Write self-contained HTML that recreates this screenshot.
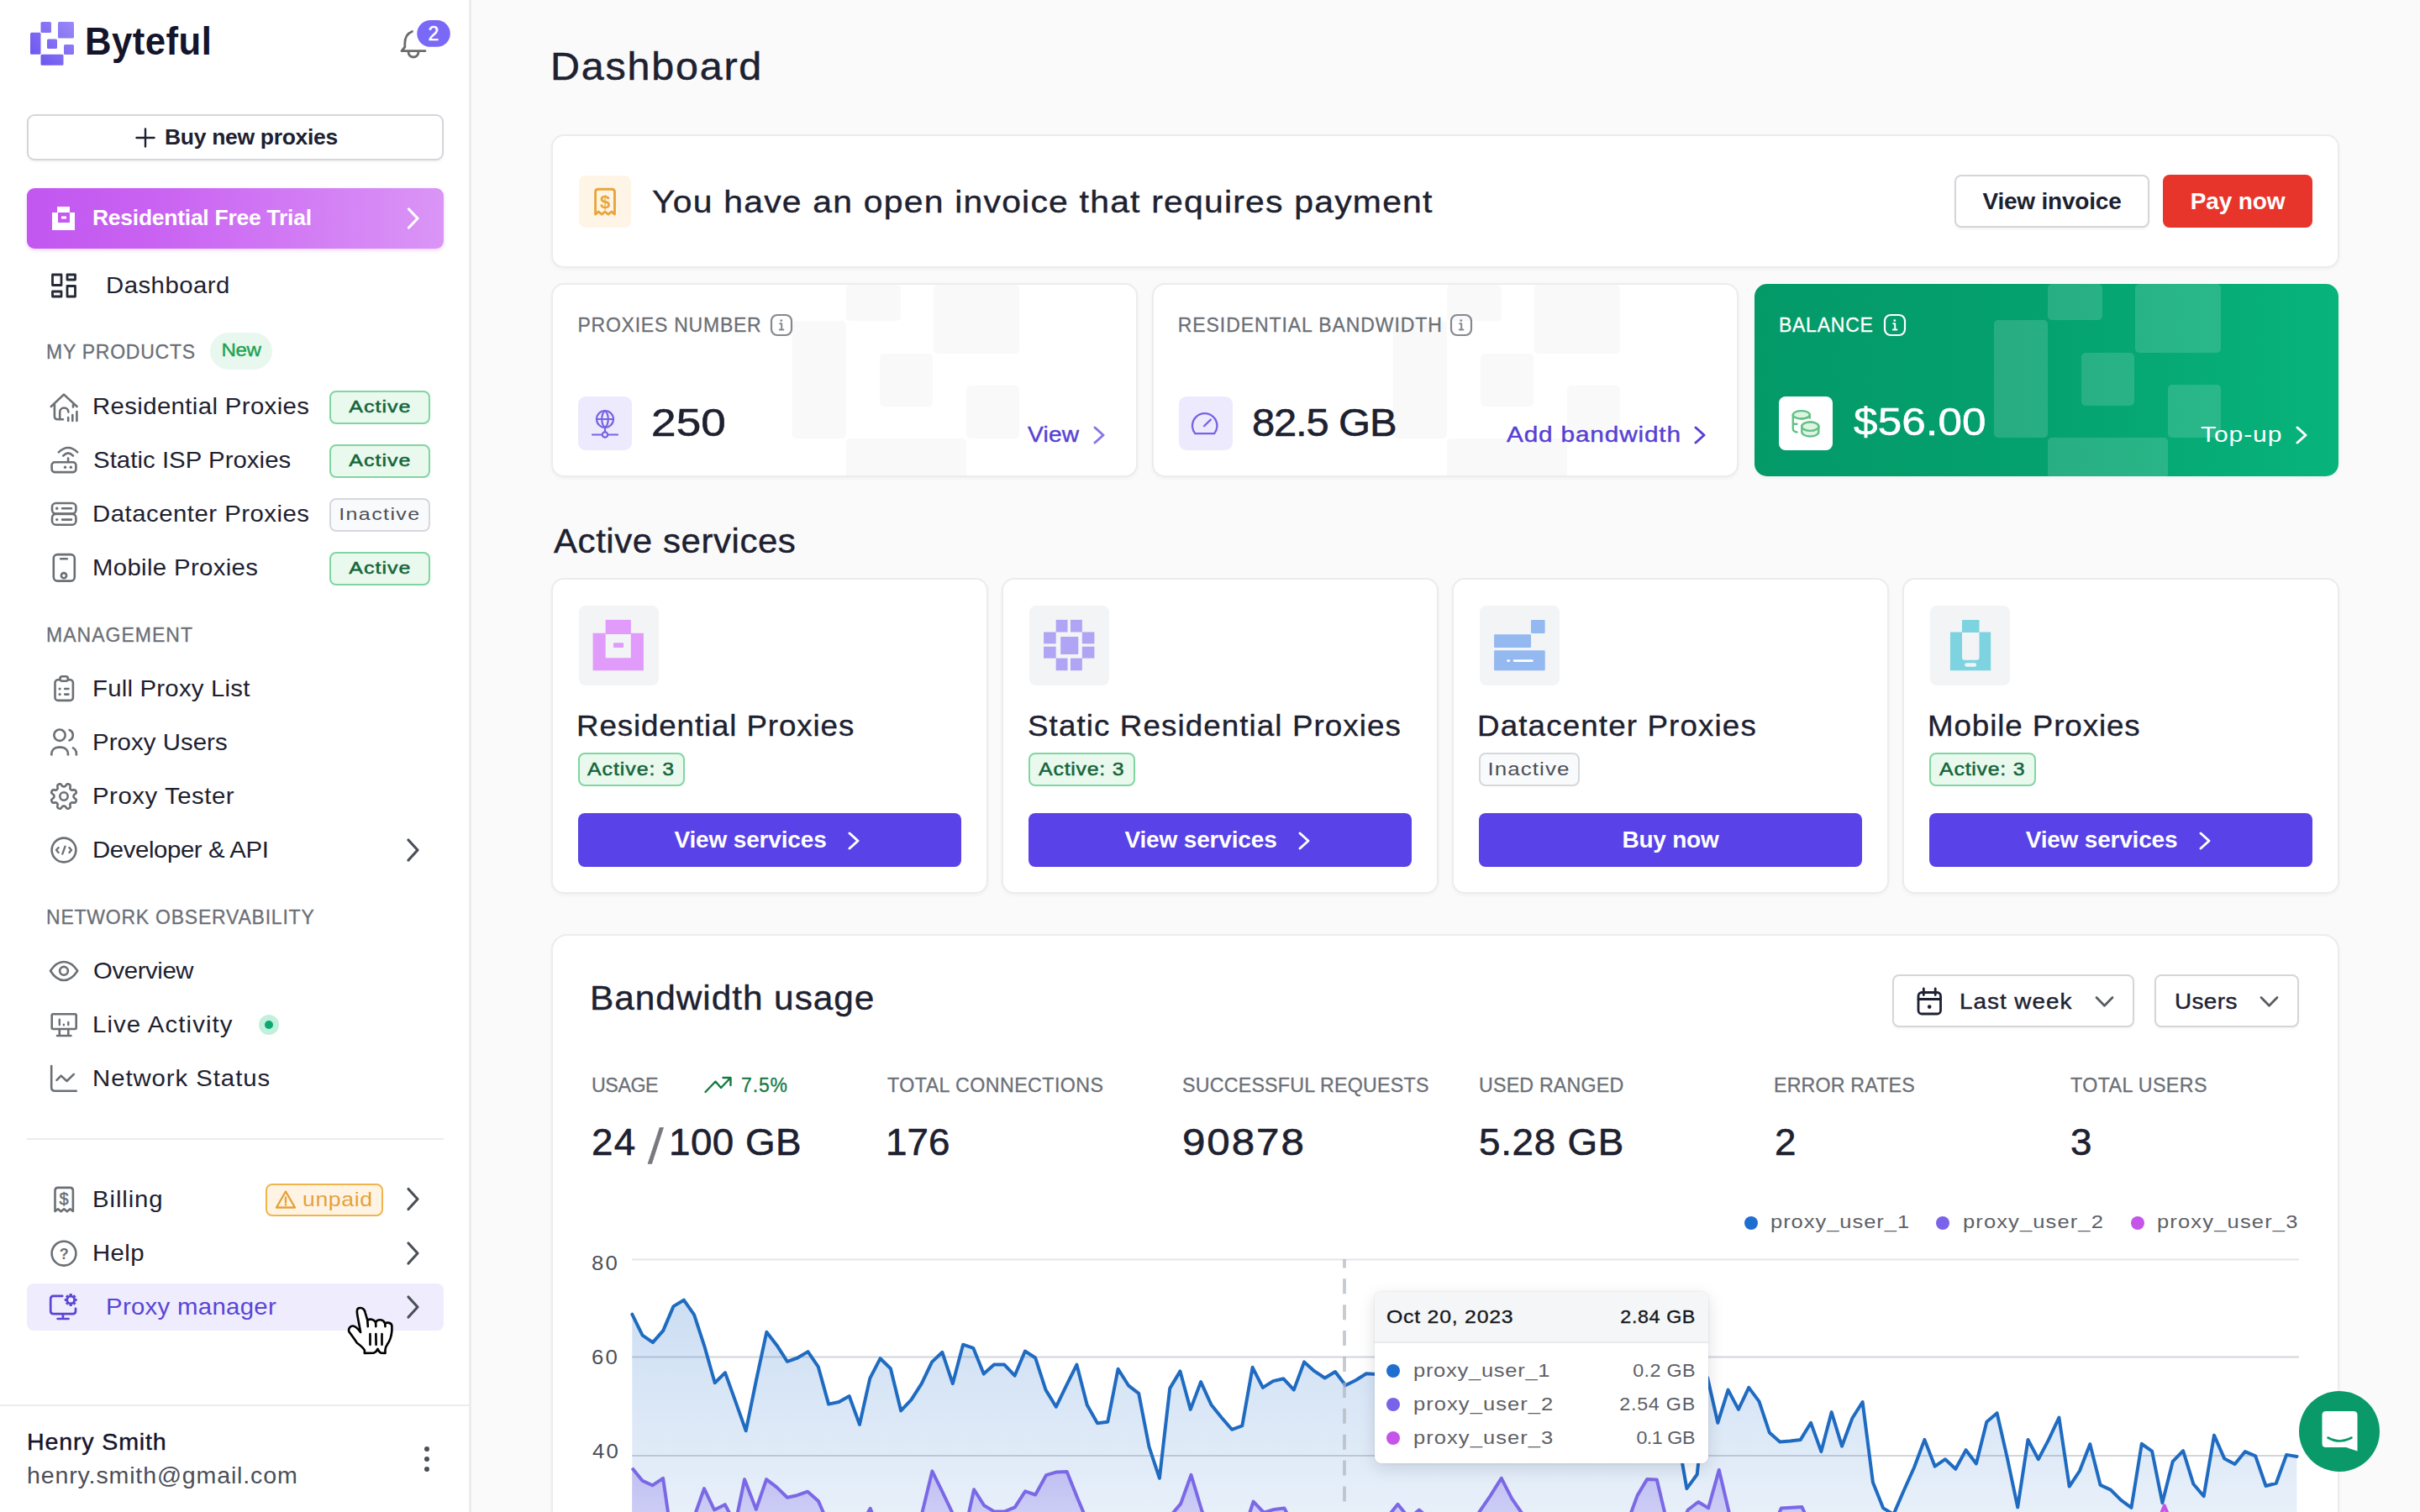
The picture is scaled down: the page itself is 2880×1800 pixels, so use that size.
<!DOCTYPE html>
<html lang="en">
<head>
<meta charset="utf-8">
<title>Byteful Dashboard</title>
<style>
*{box-sizing:border-box;margin:0;padding:0}
html,body{width:2880px;height:1800px;overflow:hidden}
body{position:relative;background:#fafafa;font-family:"Liberation Sans",sans-serif;color:#1d2130;-webkit-font-smoothing:antialiased}
.abs{position:absolute}
.t{position:absolute;white-space:nowrap;line-height:1}
svg{position:absolute;overflow:visible}
/* sidebar */
#sb{position:absolute;left:0;top:0;width:561px;height:1800px;background:#fff;border-right:3px solid #ededee}
.nav{position:absolute;left:112px;font-size:27.2px;transform:scaleX(1.08);transform-origin:0 50%;letter-spacing:.85px;color:#1d2130;white-space:nowrap;line-height:40px;height:40px}
.sec{position:absolute;left:57px;font-size:23px;letter-spacing:.85px;color:#6b6f76;-webkit-text-stroke:.3px #6b6f76;white-space:nowrap;line-height:30px;height:30px}
.ico{stroke:#6b7075;stroke-width:2.6;fill:none;stroke-linecap:round;stroke-linejoin:round}
.badge{position:absolute;left:392px;width:120px;height:40px;border-radius:8px;font-size:20.5px;letter-spacing:1.2px;text-align:center;line-height:34.5px}
.b-act{background:#e9f9ee;border:2px solid #7fd6a0;color:#14653a;font-weight:400;-webkit-text-stroke:.5px #14653a}
.b-in{background:#f9fafb;border:2px solid #d6d8dc;color:#4b4f58}
.chev{stroke:#4b4f58;stroke-width:3.2;fill:none;stroke-linecap:round;stroke-linejoin:round}
/* main */
.card{position:absolute;background:#fff;border:2px solid #ececec;border-radius:15px;box-shadow:0 2px 4px rgba(16,24,40,.04)}
.lbl{position:absolute;font-size:23px;letter-spacing:.85px;color:#6b6f76;-webkit-text-stroke:.3px #6b6f76;white-space:nowrap;line-height:30px}
.big{position:absolute;font-size:47px;transform:scaleX(1.04);transform-origin:0 50%;color:#1d2130;white-space:nowrap;line-height:60px;-webkit-text-stroke:.6px #1d2130}
.btn{position:absolute;height:64px;border-radius:8px;background:#5842e8;color:#fff;font-weight:700;font-size:28px;letter-spacing:.8px;text-align:center;line-height:64px;white-space:nowrap}
</style>
</head>
<body>

<!-- ================= SIDEBAR ================= -->
<div id="sb">
  <!-- logo -->
  <svg style="left:36px;top:26px" width="52" height="52" viewBox="36 26 52 52">
    <defs><linearGradient id="lg" gradientUnits="userSpaceOnUse" x1="38" y1="76" x2="88" y2="28"><stop offset="0" stop-color="#6852ee"/><stop offset="1" stop-color="#9a89f7"/></linearGradient></defs>
    <g fill="url(#lg)">
      <rect x="48.5" y="26" width="12.5" height="13" rx="1.5"/>
      <rect x="69" y="26" width="19" height="19.5" rx="1.5"/>
      <rect x="36" y="38.8" width="12.5" height="26" rx="1.5"/>
      <rect x="56" y="46.5" width="12" height="11.5" rx="1.5"/>
      <rect x="76" y="53" width="12" height="12" rx="1.5"/>
      <rect x="48.5" y="64.8" width="27" height="13" rx="1.5"/>
    </g>
  </svg>
  <div class="t" style="left:100.7px;top:24px;font-size:45.5px;font-weight:700;color:#14142b;letter-spacing:0.49px;line-height:52px;transform:scaleX(.96);transform-origin:0 50%">Byteful</div>

  <!-- bell -->
  <svg style="left:0;top:0" width="560" height="110" viewBox="0 0 560 110">
    <path d="M490.5 37.5 C484 40 481.8 46 481.8 52 L481.8 56 L478 60.6 L506 60.6" fill="none" stroke="#6b6b6e" stroke-width="2.8" stroke-linecap="round" stroke-linejoin="round"/>
    <path d="M486 62 A6 6 0 0 0 498 62" fill="none" stroke="#6b6b6e" stroke-width="2.8" stroke-linecap="round"/>
    <rect x="494.5" y="22.2" width="43" height="35.4" rx="17.7" fill="#fff"/>
    <rect x="496.3" y="24" width="39.5" height="31.8" rx="15.9" fill="#7a68f6"/>
  </svg>
  <div class="t" style="left:496px;top:24px;width:40px;height:32px;line-height:32px;text-align:center;font-size:23px;color:#fff;font-weight:400;-webkit-text-stroke:.5px #fff">2</div>

  <!-- buy new proxies -->
  <div class="abs" style="left:32px;top:136px;width:496px;height:55px;border:2px solid #d4d6da;border-radius:9px;background:#fff;box-shadow:0 2px 3px rgba(16,24,40,.05)"></div>
  <svg style="left:160px;top:150px" width="28" height="28" viewBox="0 0 28 28"><path d="M13 3.5V24.5M2.5 14H23.5" stroke="#1d2130" stroke-width="2.4" stroke-linecap="round" fill="none"/></svg>
  <div class="t" style="left:196px;top:145px;font-size:25px;font-weight:700;letter-spacing:-0.3px;color:#1d2130;line-height:36px;transform:scaleX(1.06);transform-origin:0 50%">Buy new proxies</div>

  <!-- free trial -->
  <div class="abs" style="left:32px;top:224px;width:496px;height:72px;border-radius:9px;background:linear-gradient(90deg,#c257f0 0%,#c962f2 30%,#d27bf4 65%,#da95f6 100%);box-shadow:0 2px 4px rgba(194,87,240,.25)"></div>
  <svg style="left:60px;top:244px" width="32" height="32" viewBox="0 0 32 32"><path fill="#fff" d="M8 2h15v7h6v21H2V9h6z M9 9v12h14V9z M13 13.5h6v3h-6z" fill-rule="evenodd"/></svg>
  <div class="t" style="left:110.0px;top:241px;font-size:25px;font-weight:700;letter-spacing:-0.25px;color:#fff;line-height:36px;transform:scaleX(1.06);transform-origin:0 50%">Residential Free Trial</div>
  <svg style="left:484px;top:246px" width="16" height="28" viewBox="0 0 16 28"><path d="M2.5 3L13 14L2.5 25" stroke="#fff" stroke-width="3.2" fill="none" stroke-linecap="round" stroke-linejoin="round"/></svg>

  <!-- dashboard -->
  <svg style="left:0;top:300px" width="120" height="80" viewBox="0 300 120 80"><g fill="none" stroke="#262a36" stroke-width="2.8" stroke-linejoin="round">
    <rect x="62.5" y="327" width="10.5" height="12.5"/><rect x="80" y="327" width="9.5" height="6"/><rect x="62.5" y="347" width="10.5" height="6"/><rect x="80" y="340.5" width="9.5" height="12.5"/></g></svg>
  <div class="nav" style="left:126.4px;top:320px;letter-spacing:0.43px">Dashboard</div>

  <!-- my products -->
  <div class="sec" style="left:55.0px;top:404px;letter-spacing:0.75px">MY PRODUCTS</div>
  <div class="abs" style="left:250px;top:396px;width:74px;height:44px;border-radius:22px;background:#e8f8ee"></div>
  <div class="t" style="left:250px;top:396px;width:74px;height:44px;line-height:42px;text-align:center;font-size:21.5px;letter-spacing:-0.4px;color:#22a352;-webkit-text-stroke:.4px #22a352;transform:scaleX(1.12);transform-origin:50% 50%">New</div>

  <div class="nav" style="left:110.0px;top:464px;letter-spacing:0.34px">Residential Proxies</div>
  <div class="badge b-act" style="top:465px"><span style="display:inline-block;transform:scaleX(1.22);transform-origin:50% 50%;letter-spacing:0.8px">Active</span></div>
  <div class="nav" style="left:111.0px;top:528px;letter-spacing:0.04px">Static ISP Proxies</div>
  <div class="badge b-act" style="top:529px"><span style="display:inline-block;transform:scaleX(1.22);transform-origin:50% 50%;letter-spacing:0.8px">Active</span></div>
  <div class="nav" style="left:110.0px;top:592px;letter-spacing:0.45px">Datacenter Proxies</div>
  <div class="badge b-in" style="top:593px"><span style="display:inline-block;transform:scaleX(1.22);transform-origin:50% 50%;letter-spacing:1.14px">Inactive</span></div>
  <div class="nav" style="left:110.0px;top:656px;letter-spacing:0.31px">Mobile Proxies</div>
  <div class="badge b-act" style="top:657px"><span style="display:inline-block;transform:scaleX(1.22);transform-origin:50% 50%;letter-spacing:0.8px">Active</span></div>

  <div class="sec" style="left:55.0px;top:741px;letter-spacing:1.01px">MANAGEMENT</div>
  <div class="nav" style="left:110.0px;top:800px;letter-spacing:0.2px">Full Proxy List</div>
  <div class="nav" style="left:110.0px;top:864px;letter-spacing:0.07px">Proxy Users</div>
  <div class="nav" style="left:110.0px;top:928px;letter-spacing:0.5px">Proxy Tester</div>
  <div class="nav" style="left:110.0px;top:992px;letter-spacing:-0.37px">Developer &amp; API</div>

  <div class="sec" style="left:55.0px;top:1077px;letter-spacing:0.77px">NETWORK OBSERVABILITY</div>
  <div class="nav" style="left:111.0px;top:1136px;letter-spacing:-0.37px">Overview</div>
  <div class="nav" style="left:110.0px;top:1200px;letter-spacing:1.01px">Live Activity</div>
  <div class="abs" style="left:308px;top:1208px;width:24px;height:24px;border-radius:12px;background:#c3f0dd"></div>
  <div class="abs" style="left:315px;top:1215px;width:10px;height:10px;border-radius:5px;background:#0aa872"></div>
  <div class="nav" style="left:110.0px;top:1264px;letter-spacing:0.86px">Network Status</div>

  <div class="abs" style="left:32px;top:1355px;width:496px;height:2px;background:#ececee"></div>

  <div class="nav" style="left:110.0px;top:1408px;letter-spacing:0.82px">Billing</div>
  <div class="abs" style="left:316px;top:1409px;width:140px;height:39px;border-radius:8px;background:#fff4e3;border:2px solid #efb54c"></div>
  <svg style="left:327px;top:1416px" width="26" height="24" viewBox="0 0 26 24"><path d="M13 2.5L24 21.5H2Z" fill="none" stroke="#e5a13a" stroke-width="2.4" stroke-linejoin="round"/><path d="M13 9.5v6" stroke="#e5a13a" stroke-width="2.4" stroke-linecap="round"/><circle cx="13" cy="18.3" r="1.3" fill="#e5a13a"/></svg>
  <div class="t" style="left:360px;top:1409px;line-height:37px;font-size:24px;letter-spacing:0.56px;color:#e5a13a;transform:scaleX(1.11);transform-origin:0 50%">unpaid</div>
  <div class="nav" style="left:110.0px;top:1472px;letter-spacing:0.36px">Help</div>

  <div class="abs" style="left:32px;top:1528px;width:496px;height:56px;border-radius:8px;background:#efedfd"></div>
  <div class="nav" style="left:126.4px;top:1536px;color:#5a45d8;letter-spacing:0.28px;font-size:27.2px">Proxy manager</div>

  <!-- bottom user -->
  <div class="abs" style="left:0;top:1672px;width:558px;height:2px;background:#ececee"></div>
  <div class="t" style="left:32px;top:1698px;font-size:27px;letter-spacing:0.78px;color:#14142b;line-height:38px;-webkit-text-stroke:.4px #14142b;transform:scaleX(1.06);transform-origin:0 50%">Henry Smith</div>
  <div class="t" style="left:32px;top:1738px;font-size:27px;letter-spacing:0.78px;color:#4b4f58;line-height:38px;transform:scaleX(1.06);transform-origin:0 50%">henry.smith@gmail.com</div>
  <div class="abs" style="left:505px;top:1722px;width:6px;height:6px;border-radius:3px;background:#4b4f58"></div>
  <div class="abs" style="left:505px;top:1734px;width:6px;height:6px;border-radius:3px;background:#4b4f58"></div>
  <div class="abs" style="left:505px;top:1746px;width:6px;height:6px;border-radius:3px;background:#4b4f58"></div>

  <!-- chevrons -->
  <svg style="left:0;top:0" width="560" height="1800" viewBox="0 0 560 1800">
    <g class="chev">
      <path d="M486 1000L497 1012L486 1024"/>
      <path d="M486 1415.5L497 1427.5L486 1439.5"/>
      <path d="M486 1480L497 1492L486 1504"/>
    </g>
    <path d="M486 1544L497 1556L486 1568" fill="none" stroke="#4b4f58" stroke-width="3.2" stroke-linecap="round" stroke-linejoin="round"/>
    
    <g class="ico">
      <!-- house -->
      <path d="M60.8 484L76 469.6L91.6 484"/>
      <path d="M64.9 482V495.5Q64.9 499.3 68.7 499.3H75"/>
      <path d="M71.2 498.5V490.6A5.1 5.1 0 0 1 81.4 490.6"/>
      <path d="M87 482.4V484.6"/>
      <path d="M81.2 497V501M86.3 494V501M91.4 490V501"/>
      <!-- router -->
      <rect x="61.6" y="550.3" width="28.8" height="11.8" rx="3.5"/>
      <path d="M81.1 545.6V550"/>
      <path d="M75.2 542.6Q81.1 536.2 87 542.6"/>
      <path d="M69.8 538.4Q81.1 527.6 92.2 538.4"/>
      <!-- datacenter -->
      <rect x="62" y="599" width="28.4" height="12.6" rx="4.5"/>
      <rect x="62" y="611.9" width="28.4" height="12.8" rx="4.5"/>
      <path d="M74 605.3H85M74 618.6H85"/>
      <!-- mobile -->
      <rect x="63.8" y="660.1" width="25" height="31.5" rx="4.5"/>
      <path d="M72.2 665.3H79.8"/>
      <circle cx="76" cy="685.2" r="3.1"/>
      <!-- clipboard -->
      <rect x="65.5" y="809.3" width="21.4" height="24.6" rx="3.5"/>
      <rect x="71.4" y="805.2" width="9.6" height="5.6" rx="2.8" fill="#fff"/>
      <path d="M77.2 820H81.5M77.2 826.6H81.5"/>
      <!-- users -->
      <circle cx="71" cy="875.2" r="6.7"/>
      <path d="M61.3 899.6V897.6A8 8 0 0 1 69.3 889.6H73A8 8 0 0 1 81 897.6V899.6" stroke-linecap="butt"/>
      <path d="M82.6 869A6.7 6.7 0 0 1 82.6 881.4"/>
      <path d="M86 889.9A8 8 0 0 1 90.9 897.4V899.6" stroke-linecap="butt"/>
      <!-- gear -->
      <path d="M90.4 954.0 L90.0 954.9 L89.2 955.6 L87.3 955.6 L85.5 955.3 L84.7 955.6 L84.2 956.2 L83.6 956.7 L83.3 957.5 L83.6 959.3 L83.6 961.2 L82.9 962.0 L82.0 962.4 L81.0 962.8 L79.9 962.7 L78.7 961.3 L77.6 959.9 L76.8 959.6 L76.0 959.6 L75.2 959.6 L74.4 959.9 L73.3 961.3 L72.1 962.7 L71.0 962.8 L70.0 962.4 L69.1 962.0 L68.4 961.2 L68.4 959.3 L68.7 957.5 L68.4 956.7 L67.8 956.2 L67.3 955.6 L66.5 955.3 L64.7 955.6 L62.8 955.6 L62.0 954.9 L61.6 954.0 L61.2 953.0 L61.3 951.9 L62.7 950.7 L64.1 949.6 L64.4 948.8 L64.4 948.0 L64.4 947.2 L64.1 946.4 L62.7 945.3 L61.3 944.1 L61.2 943.0 L61.6 942.0 L62.0 941.1 L62.8 940.4 L64.7 940.4 L66.5 940.7 L67.3 940.4 L67.8 939.8 L68.4 939.3 L68.7 938.5 L68.4 936.7 L68.4 934.8 L69.1 934.0 L70.0 933.6 L71.0 933.2 L72.1 933.3 L73.3 934.7 L74.4 936.1 L75.2 936.4 L76.0 936.4 L76.8 936.4 L77.6 936.1 L78.7 934.7 L79.9 933.3 L81.0 933.2 L82.0 933.6 L82.9 934.0 L83.6 934.8 L83.6 936.7 L83.3 938.5 L83.6 939.3 L84.2 939.8 L84.7 940.4 L85.5 940.7 L87.3 940.4 L89.2 940.4 L90.0 941.1 L90.4 942.0 L90.8 943.0 L90.7 944.1 L89.3 945.3 L87.9 946.4 L87.6 947.2 L87.6 948.0 L87.6 948.8 L87.9 949.6 L89.3 950.7 L90.7 951.9 L90.8 953.0Z"/>
      <circle cx="76" cy="948" r="4.7"/>
      <!-- code -->
      <circle cx="76" cy="1012" r="14.4"/>
      <path d="M69.6 1009L67 1012L69.6 1015M82.4 1009L85 1012L82.4 1015M77.5 1007.6L74.3 1016.6" stroke-width="2.3"/>
      <!-- eye -->
      <path d="M60 1155.8Q67 1145 76 1145Q85 1145 92.3 1155.8Q85 1167 76 1167Q67 1167 60 1155.8Z"/>
      <circle cx="76" cy="1155.8" r="4.9"/>
      <!-- monitor -->
      <rect x="61.7" y="1207.2" width="29" height="17.8" rx="1.5"/>
      <path d="M70.8 1213.8V1220M81.3 1217V1220M75.9 1219.6V1220.2" stroke-width="2.4"/>
      <path d="M70.8 1226V1232.5M81.3 1226V1232.5M68 1233H84.4"/>
      <!-- network status -->
      <path d="M61.2 1269V1294.5Q61.2 1298.8 65.5 1298.8H90.8"/>
      <path d="M67.5 1285.8L72.7 1280.6L79.5 1287L87.8 1278.8"/>
      <!-- receipt -->
      <path d="M65.5 1442V1417.5Q65.5 1413.9 69 1413.9H83.4Q86.9 1413.9 86.9 1417.5V1442L83.4 1439.3L79.8 1442.3L76.2 1439.3L72.6 1442.3L69 1439.3Z"/>
      <!-- help -->
      <circle cx="76" cy="1492.2" r="14.4"/>
    </g>
    <g fill="#6b7075">
      <circle cx="77.5" cy="556.2" r="1.7"/><circle cx="84.3" cy="556.2" r="1.7"/>
      <circle cx="67.7" cy="605.3" r="1.7"/><circle cx="67.7" cy="618.6" r="1.7"/>
      <circle cx="71.1" cy="820" r="1.6"/><circle cx="71.1" cy="826.6" r="1.6"/>
      <text x="76" y="1433.8" font-family="Liberation Sans" font-weight="400" font-size="20" text-anchor="middle" stroke="#6b7075" stroke-width=".5">$</text>
      <text x="76.2" y="1498.8" font-family="Liberation Sans" font-weight="700" font-size="18" text-anchor="middle">?</text>
    </g>
    <!-- proxy manager icon -->
    <g fill="none" stroke="#5a45d8" stroke-width="2.7" stroke-linecap="round" stroke-linejoin="round">
      <path d="M74.2 1542.9H63.6Q60.2 1542.9 60.2 1546.3V1560.8Q60.2 1564.2 63.6 1564.2H86.6Q90 1564.2 90 1560.8V1557.8"/>
      <path d="M74.9 1564.4V1569.8M68.6 1570H81.6"/>
      <circle cx="84.2" cy="1547.5" r="4.4" stroke-width="2.8"/>
      <path d="M89.4 1547.5L91.6 1547.5M87.9 1551.2L89.4 1552.7M84.2 1552.7L84.2 1554.9M80.5 1551.2L79.0 1552.7M79.0 1547.5L76.8 1547.5M80.5 1543.8L79.0 1542.3M84.2 1542.3L84.2 1540.1M87.9 1543.8L89.4 1542.3" stroke-width="3.2" stroke-linecap="butt"/>
    </g>

  </svg>
</div>

<!-- ================= MAIN ================= -->
<div class="t" style="left:654.6px;top:49px;font-size:46.6px;line-height:60px;letter-spacing:1.71px;color:#1d2130;-webkit-text-stroke:.5px #1d2130;transform:scaleX(1.04);transform-origin:0 50%">Dashboard</div>

<!-- invoice banner -->
<div class="card" style="left:656px;top:160px;width:2128px;height:159px"></div>
<div class="abs" style="left:689px;top:209px;width:62px;height:62px;border-radius:8px;background:#fff5e6"></div>
<svg style="left:689px;top:209px" width="62" height="62" viewBox="0 0 62 62"><path d="M19.600 46V19.500Q19.600 16.200 22.900 16.200H39.200Q42.500 16.200 42.500 19.500V46L38.700 43L34.900 46.200L31 43L27.200 46.200L23.400 43Z" fill="none" stroke="#eaa53c" stroke-width="2.900" stroke-linejoin="round"/><text x="31" y="38.600" font-family="Liberation Sans" font-size="22" font-weight="700" fill="#eaa53c" text-anchor="middle">$</text></svg>
<div class="t" style="left:775.8px;top:211.3px;font-size:36.5px;line-height:60px;letter-spacing:1.09px;color:#1d2130;-webkit-text-stroke:.4px #1d2130;transform:scaleX(1.12);transform-origin:0 50%">You have an open invoice that requires payment</div>
<div class="abs" style="left:2326px;top:208px;width:232px;height:63px;border:2px solid #d4d6da;border-radius:8px;background:#fff;box-shadow:0 2px 3px rgba(16,24,40,.05)"></div>
<div class="t" style="left:2326px;top:208px;width:232px;height:63px;line-height:63px;text-align:center;font-size:28px;font-weight:700;letter-spacing:-0.2px;color:#1d2130">View invoice</div>
<div class="abs" style="left:2574px;top:208px;width:178px;height:63px;border-radius:8px;background:#e8352b"></div>
<div class="t" style="left:2574px;top:208px;width:178px;height:63px;line-height:63px;text-align:center;font-size:28px;font-weight:700;letter-spacing:-0.14px;color:#fff">Pay now</div>

<!-- stat cards -->
<div class="card" style="left:656px;top:337px;width:698px;height:231px;overflow:hidden"><svg style="left:0;top:0" width="695" height="229" viewBox="0 0 695 229"><rect x="349" y="0" width="65" height="43" rx="5" fill="#f9f9f9"/><rect x="453" y="0" width="102" height="82" rx="5" fill="#f9f9f9"/><rect x="285" y="43" width="64" height="140" rx="5" fill="#f9f9f9"/><rect x="389" y="82" width="63" height="63" rx="5" fill="#f9f9f9"/><rect x="492" y="120" width="63" height="63" rx="5" fill="#f9f9f9"/><rect x="349" y="183" width="143" height="48" rx="5" fill="#f9f9f9"/></svg></div>
<div class="card" style="left:1371px;top:337px;width:698px;height:231px;overflow:hidden"><svg style="left:0;top:0" width="695" height="229" viewBox="0 0 695 229"><rect x="349" y="0" width="65" height="43" rx="5" fill="#f9f9f9"/><rect x="453" y="0" width="102" height="82" rx="5" fill="#f9f9f9"/><rect x="285" y="43" width="64" height="140" rx="5" fill="#f9f9f9"/><rect x="389" y="82" width="63" height="63" rx="5" fill="#f9f9f9"/><rect x="492" y="120" width="63" height="63" rx="5" fill="#f9f9f9"/><rect x="349" y="183" width="143" height="48" rx="5" fill="#f9f9f9"/></svg></div>
<div class="card" style="left:2088px;top:338px;width:695px;height:229px;overflow:hidden;border:none;background:linear-gradient(90deg,#039a68 0%,#04a06d 45%,#08b47c 100%)"><svg style="left:0;top:0" width="695" height="229" viewBox="0 0 695 229"><rect x="349" y="0" width="65" height="43" rx="5" fill="rgba(255,255,255,.14)"/><rect x="453" y="0" width="102" height="82" rx="5" fill="rgba(255,255,255,.14)"/><rect x="285" y="43" width="64" height="140" rx="5" fill="rgba(255,255,255,.14)"/><rect x="389" y="82" width="63" height="63" rx="5" fill="rgba(255,255,255,.14)"/><rect x="492" y="120" width="63" height="63" rx="5" fill="rgba(255,255,255,.14)"/><rect x="349" y="183" width="143" height="48" rx="5" fill="rgba(255,255,255,.14)"/></svg></div>

<div class="lbl" style="left:687.4px;top:372px;letter-spacing:0.77px">PROXIES NUMBER</div>
<svg style="left:916px;top:373px" width="28" height="28" viewBox="0 0 28 28"><rect x="2" y="2" width="24" height="24" rx="7" fill="none" stroke="#85888e" stroke-width="2.2"/><path d="M12.2 12.3H14.2V19.5M11.8 19.6H16.4" fill="none" stroke="#85888e" stroke-width="2" stroke-linecap="round" stroke-linejoin="round"/><circle cx="13.8" cy="8.6" r="1.4" fill="#85888e"/></svg>
<div class="abs" style="left:688px;top:472px;width:64px;height:64px;border-radius:9px;background:#edeafd"></div>
<svg style="left:688px;top:472px" width="64" height="64" viewBox="0 0 64 64"><g fill="none" stroke="#7663e4" stroke-width="2.2" stroke-linecap="round"><circle cx="32" cy="27" r="10"/><path d="M22 27H42M32 17C27 21 27 33 32 37M32 17C37 21 37 33 32 37M32 37V42M17 45.500H28.500M35.500 45.500H47"/><circle cx="32" cy="45.500" r="3.200"/></g></svg>
<div class="big" style="left:774.8px;top:472.5px;letter-spacing:0.1px;transform:scaleX(1.13);transform-origin:0 50%">250</div>
<div class="t" style="left:1223.0px;top:499px;line-height:36px;font-size:26.6px;letter-spacing:0.16px;color:#5641d4;-webkit-text-stroke:.4px #5641d4;transform:scaleX(1.06);transform-origin:0 50%">View</div>
<svg style="left:1301px;top:507px" width="14" height="22" viewBox="-2 -2 14 22"><path d="M0 0L10 9.0L0 18" fill="none" stroke="#8676e6" stroke-width="3" stroke-linecap="round" stroke-linejoin="round"/></svg>

<div class="lbl" style="left:1401.8px;top:372px;letter-spacing:0.92px">RESIDENTIAL BANDWIDTH</div>
<svg style="left:1725px;top:373px" width="28" height="28" viewBox="0 0 28 28"><rect x="2" y="2" width="24" height="24" rx="7" fill="none" stroke="#85888e" stroke-width="2.2"/><path d="M12.2 12.3H14.2V19.5M11.8 19.6H16.4" fill="none" stroke="#85888e" stroke-width="2" stroke-linecap="round" stroke-linejoin="round"/><circle cx="13.8" cy="8.6" r="1.4" fill="#85888e"/></svg>
<div class="abs" style="left:1403px;top:472px;width:64px;height:64px;border-radius:9px;background:#edeafd"></div>
<svg style="left:1403px;top:472px" width="64" height="64" viewBox="0 0 64 64"><g fill="none" stroke="#7663e4" stroke-width="2.3" stroke-linecap="round" stroke-linejoin="round"><path d="M19.400 44.200A14.700 14.700 0 1 1 42 44.200Z"/><path d="M30 35.300L37.800 27.600"/></g></svg>
<div class="big" style="left:1490.0px;top:472.5px;letter-spacing:-1.08px">82.5 GB</div>
<div class="t" style="left:1793px;top:499px;line-height:36px;font-size:26.6px;letter-spacing:0.74px;color:#5641d4;-webkit-text-stroke:.4px #5641d4;transform:scaleX(1.12);transform-origin:0 50%">Add bandwidth</div>
<svg style="left:2016px;top:507px" width="14" height="22" viewBox="-2 -2 14 22"><path d="M0 0L10 9.0L0 18" fill="none" stroke="#5641d4" stroke-width="3" stroke-linecap="round" stroke-linejoin="round"/></svg>

<div class="lbl" style="left:2116.9px;top:372px;color:#fff;-webkit-text-stroke:.3px #fff;letter-spacing:0.77px">BALANCE</div>
<svg style="left:2241px;top:373px" width="28" height="28" viewBox="0 0 28 28"><rect x="2" y="2" width="24" height="24" rx="7" fill="none" stroke="#fff" stroke-width="2.2"/><path d="M12.2 12.3H14.2V19.5M11.8 19.6H16.4" fill="none" stroke="#fff" stroke-width="2" stroke-linecap="round" stroke-linejoin="round"/><circle cx="13.8" cy="8.6" r="1.4" fill="#fff"/></svg>
<div class="abs" style="left:2117px;top:472px;width:64px;height:64px;border-radius:8px;background:#fff"></div>
<svg style="left:2117px;top:472px" width="64" height="64" viewBox="0 0 64 64"><g fill="none" stroke="#63c185" stroke-width="2.4" stroke-linecap="round"><ellipse cx="26.800" cy="21.800" rx="10" ry="4.700" fill="#dcf5e3"/><path d="M16.800 21.800V38.500C16.800 40.500 18.500 42 21.500 42.500M16.800 32.700H21.500"/><path d="M26.800 26.500C32.300 26.500 36.800 24.400 36.800 21.800V25.500" fill="none"/><ellipse cx="37.300" cy="35.700" rx="10" ry="5.200" fill="#dcf5e3"/><path d="M27.300 35.700V42.300C27.300 45.200 31.800 47.500 37.300 47.500S47.300 45.200 47.300 42.300V35.700" fill="#dcf5e3"/><ellipse cx="37.300" cy="35.700" rx="10" ry="5.200" fill="#dcf5e3"/></g></svg>
<div class="big" style="left:2206.4px;top:472px;color:#fff;-webkit-text-stroke:.6px #fff;letter-spacing:0.16px;transform:scaleX(1.09);transform-origin:0 50%">$56.00</div>
<div class="t" style="left:2618.8px;top:499px;line-height:36px;font-size:26.6px;letter-spacing:0.8px;color:#fff;transform:scaleX(1.13);transform-origin:0 50%">Top-up</div>
<svg style="left:2732px;top:507px" width="14" height="22" viewBox="-2 -2 14 22"><path d="M0 0L10 9.0L0 18" fill="none" stroke="#fff" stroke-width="3" stroke-linecap="round" stroke-linejoin="round"/></svg>

<!-- active services -->
<div class="t" style="left:658.6px;top:614px;font-size:40px;line-height:60px;letter-spacing:0.53px;color:#1d2130;-webkit-text-stroke:.4px #1d2130;transform:scaleX(1.05);transform-origin:0 50%">Active services</div>
<div class="card" style="left:656px;top:688px;width:520px;height:375.500px"></div>
<div class="abs" style="left:689px;top:721px;width:94.500px;height:94.500px;border-radius:8px;background:#f3f4f6"></div><svg style="left:689px;top:721px" width="94.500" height="94.500" viewBox="0 0 94 94"><g fill="#e09bfb"><rect x="31.5" y="16.8" width="30" height="17"/><path d="M16.500 32.700H76.500V76.800H16.500Z M31.500 32.700V61.800H61.500V32.700Z" fill-rule="evenodd"/><rect x="40.800" y="44" width="12" height="5.800" rx="1"/></g></svg>
<div class="t" style="left:686.0px;top:833.6px;font-size:35px;line-height:60px;transform:scaleX(1.05);transform-origin:0 50%;letter-spacing:0.83px;color:#1d2130;-webkit-text-stroke:.35px #1d2130">Residential Proxies</div>
<div class="abs b-act" style="left:688px;top:896px;width:127px;height:40px;border-radius:8px;font-size:22px;text-align:center;line-height:36px"><span style="display:inline-block;transform:scaleX(1.13);transform-origin:50% 50%;letter-spacing:0.85px">Active: 3</span></div>
<div class="btn" style="left:688px;top:968px;width:456px;padding-right:46px;letter-spacing:-0.16px">View services</div>
<svg style="left:1009px;top:990px" width="14" height="22" viewBox="-2 -2 14 22"><path d="M0 0L10 9.0L0 18" fill="none" stroke="#fff" stroke-width="3" stroke-linecap="round" stroke-linejoin="round"/></svg>
<div class="card" style="left:1192px;top:688px;width:520px;height:375.500px"></div>
<div class="abs" style="left:1225px;top:721px;width:94.500px;height:94.500px;border-radius:8px;background:#f3f4f6"></div><svg style="left:1225px;top:721px" width="94.500" height="94.500" viewBox="0 0 94 94"><g fill="#b0a4f4" transform="translate(17,16.800)"><rect x="20" y="20" width="21" height="21" rx="1"/><rect x="14.500" y="0" width="13.800" height="14.500"/><rect x="31.700" y="0" width="13.800" height="14.500"/><rect x="14.500" y="45.500" width="13.800" height="14.500"/><rect x="31.700" y="45.500" width="13.800" height="14.500"/><rect x="0" y="14.500" width="14.500" height="13.800"/><rect x="0" y="31.700" width="14.500" height="13.800"/><rect x="45.500" y="14.500" width="14.500" height="13.800"/><rect x="45.500" y="31.700" width="14.500" height="13.800"/></g></svg>
<div class="t" style="left:1223px;top:833.6px;font-size:35px;line-height:60px;transform:scaleX(1.05);transform-origin:0 50%;letter-spacing:1.04px;color:#1d2130;-webkit-text-stroke:.35px #1d2130">Static Residential Proxies</div>
<div class="abs b-act" style="left:1224px;top:896px;width:127px;height:40px;border-radius:8px;font-size:22px;text-align:center;line-height:36px"><span style="display:inline-block;transform:scaleX(1.13);transform-origin:50% 50%;letter-spacing:0.67px">Active: 3</span></div>
<div class="btn" style="left:1224px;top:968px;width:456px;padding-right:46px;letter-spacing:-0.16px">View services</div>
<svg style="left:1545px;top:990px" width="14" height="22" viewBox="-2 -2 14 22"><path d="M0 0L10 9.0L0 18" fill="none" stroke="#fff" stroke-width="3" stroke-linecap="round" stroke-linejoin="round"/></svg>
<div class="card" style="left:1728px;top:688px;width:520px;height:375.500px"></div>
<div class="abs" style="left:1761px;top:721px;width:94.500px;height:94.500px;border-radius:8px;background:#f3f4f6"></div><svg style="left:1761px;top:721px" width="94.500" height="94.500" viewBox="0 0 94 94"><g transform="translate(17,16.800)"><g fill="#94b8f0"><rect x="43.700" y="0" width="16.500" height="16" rx="1"/><rect x="0" y="17.200" width="43.700" height="15.800" rx="1"/><rect x="0" y="36.200" width="60.300" height="23.800" rx="1"/></g><rect x="15" y="47" width="4" height="2.800" rx="1.400" fill="#fff"/><rect x="22.500" y="47" width="24" height="2.800" rx="1.400" fill="#fff"/></g></svg>
<div class="t" style="left:1758.3px;top:833.6px;font-size:35px;line-height:60px;transform:scaleX(1.05);transform-origin:0 50%;letter-spacing:1.08px;color:#1d2130;-webkit-text-stroke:.35px #1d2130">Datacenter Proxies</div>
<div class="abs b-in" style="left:1760px;top:896px;width:120px;height:40px;border-radius:8px;font-size:22px;text-align:center;line-height:36px"><span style="display:inline-block;transform:scaleX(1.18);transform-origin:50% 50%;letter-spacing:0.9px">Inactive</span></div>
<div class="btn" style="left:1760px;top:968px;width:456px;letter-spacing:-0.24px">Buy now</div>
<div class="card" style="left:2264px;top:688px;width:520px;height:375.500px"></div>
<div class="abs" style="left:2297px;top:721px;width:94.500px;height:94.500px;border-radius:8px;background:#f3f4f6"></div><svg style="left:2297px;top:721px" width="94.500" height="94.500" viewBox="0 0 94 94"><g transform="translate(23.800,16.800)"><rect x="14" y="0" width="20.400" height="15" rx="1" fill="#7dd3e0"/><path d="M0 14.500H48V60H0Z M14 14.500V44.600Q14 47.600 17 47.600H31.400Q34.400 47.600 34.400 44.600V14.500Z" fill="#7dd3e0" fill-rule="evenodd"/><rect x="17.200" y="51" width="13.800" height="4.500" rx="2.200" fill="#eef5f8"/></g></svg>
<div class="t" style="left:2294.2px;top:833.6px;font-size:35px;line-height:60px;transform:scaleX(1.05);transform-origin:0 50%;letter-spacing:0.86px;color:#1d2130;-webkit-text-stroke:.35px #1d2130">Mobile Proxies</div>
<div class="abs b-act" style="left:2296px;top:896px;width:127px;height:40px;border-radius:8px;font-size:22px;text-align:center;line-height:36px"><span style="display:inline-block;transform:scaleX(1.13);transform-origin:50% 50%;letter-spacing:0.67px">Active: 3</span></div>
<div class="btn" style="left:2296px;top:968px;width:456px;padding-right:46px;letter-spacing:-0.2px">View services</div>
<svg style="left:2617px;top:990px" width="14" height="22" viewBox="-2 -2 14 22"><path d="M0 0L10 9.0L0 18" fill="none" stroke="#fff" stroke-width="3" stroke-linecap="round" stroke-linejoin="round"/></svg>

<!-- bandwidth card -->
<div class="card" style="left:656px;top:1112px;width:2128px;height:720px;border-radius:19px"></div>
<div class="t" style="left:701.8px;top:1158px;font-size:40px;line-height:60px;letter-spacing:0.88px;color:#1d2130;-webkit-text-stroke:.4px #1d2130;transform:scaleX(1.06);transform-origin:0 50%">Bandwidth usage</div>
<div class="abs" style="left:2252px;top:1160px;width:288px;height:63px;border:2px solid #d4d6da;border-radius:8px;background:#fff;box-shadow:0 2px 3px rgba(16,24,40,.04)"></div>
<svg style="left:2278px;top:1172px" width="36" height="40" viewBox="2278 1172 36 40"><g fill="none" stroke="#1d2130" stroke-width="2.8" stroke-linecap="round" stroke-linejoin="round"><rect x="2283" y="1181.500" width="26.500" height="25.500" rx="4"/><path d="M2283 1189.500H2309.500M2289.300 1177V1184.500M2303.200 1177V1184.500"/></g><circle cx="2296.200" cy="1198.600" r="2.300" fill="#1d2130"/></svg>
<div class="t" style="left:2332px;top:1174px;font-size:26.3px;line-height:36px;letter-spacing:0.93px;color:#1d2130;-webkit-text-stroke:.4px #1d2130;transform:scaleX(1.06);transform-origin:0 50%">Last week</div>
<svg style="left:2492px;top:1185px" width="26" height="16" viewBox="-2 -2 26 16"><path d="M1 .5L10.5 10.2L20 .5" fill="none" stroke="#5a5d63" stroke-width="2.8" stroke-linecap="round" stroke-linejoin="round"/></svg>
<div class="abs" style="left:2564px;top:1160px;width:172px;height:63px;border:2px solid #d4d6da;border-radius:8px;background:#fff;box-shadow:0 2px 3px rgba(16,24,40,.04)"></div>
<div class="t" style="left:2588px;top:1174px;font-size:26.3px;line-height:36px;letter-spacing:0.38px;color:#1d2130;-webkit-text-stroke:.4px #1d2130;transform:scaleX(1.06);transform-origin:0 50%">Users</div>
<svg style="left:2688px;top:1185px" width="26" height="16" viewBox="-2 -2 26 16"><path d="M1 .5L10.5 10.2L20 .5" fill="none" stroke="#5a5d63" stroke-width="2.8" stroke-linecap="round" stroke-linejoin="round"/></svg>
<div class="lbl" style="left:704.0px;top:1277px;font-size:23px;transform:scaleX(1.01);transform-origin:0 50%;letter-spacing:-0.43px">USAGE</div>
<div class="big" style="left:704px;top:1330px;font-size:44px;letter-spacing:1.2px">24</div><div class="big" style="left:772px;top:1335px;font-size:59px;color:#77797f;-webkit-text-stroke:.5px #77797f;transform:skewX(-3deg)">/</div><div class="big" style="left:796px;top:1330px;font-size:44px;letter-spacing:0.44px">100 GB</div>
<div class="lbl" style="left:1056.2px;top:1277px;font-size:23px;transform:scaleX(1.01);transform-origin:0 50%;letter-spacing:0.44px">TOTAL CONNECTIONS</div>
<div class="big" style="left:1054.4px;top:1330px;font-size:44px;letter-spacing:0.0px">176</div>
<div class="lbl" style="left:1407.4px;top:1277px;font-size:23px;transform:scaleX(1.01);transform-origin:0 50%;letter-spacing:0.21px">SUCCESSFUL REQUESTS</div>
<div class="big" style="left:1407.4px;top:1330px;font-size:44px;letter-spacing:1.75px;transform:scaleX(1.12);transform-origin:0 50%">90878</div>
<div class="lbl" style="left:1759.7px;top:1277px;font-size:23px;transform:scaleX(1.01);transform-origin:0 50%;letter-spacing:0.18px">USED RANGED</div>
<div class="big" style="left:1759.7px;top:1330px;font-size:44px;letter-spacing:0.7px">5.28 GB</div>
<div class="lbl" style="left:2111.1px;top:1277px;font-size:23px;transform:scaleX(1.01);transform-origin:0 50%;letter-spacing:0.16px">ERROR RATES</div>
<div class="big" style="left:2112px;top:1330px;font-size:44px;letter-spacing:.6px">2</div>
<div class="lbl" style="left:2464.0px;top:1277px;font-size:23px;transform:scaleX(1.01);transform-origin:0 50%;letter-spacing:0.4px">TOTAL USERS</div>
<div class="big" style="left:2464px;top:1330px;font-size:44px;letter-spacing:.6px">3</div>
<svg style="left:836px;top:1278px" width="38" height="28" viewBox="836 1278 38 28"><path d="M839.500 1300L851.500 1287.500L858 1295L869 1283.500M860.500 1283H869.500V1292" fill="none" stroke="#157a43" stroke-width="2.400" stroke-linecap="round" stroke-linejoin="round"/></svg>
<div class="t" style="left:882.0px;top:1277px;font-size:23px;line-height:30px;letter-spacing:0.86px;color:#157a43;-webkit-text-stroke:.3px #157a43">7.5%</div>
<div class="abs" style="left:2075.9px;top:1448px;width:16px;height:16px;border-radius:8px;background:#1f6fd0"></div><div class="t" style="left:2107.3px;top:1440px;font-size:22.6px;line-height:30px;letter-spacing:0.84px;color:#5d6066;transform:scaleX(1.13);transform-origin:0 50%">proxy_user_1</div>
<div class="abs" style="left:2304px;top:1448px;width:16px;height:16px;border-radius:8px;background:#7a63e8"></div><div class="t" style="left:2336.0px;top:1440px;font-size:22.6px;line-height:30px;letter-spacing:0.98px;color:#5d6066;transform:scaleX(1.13);transform-origin:0 50%">proxy_user_2</div>
<div class="abs" style="left:2535.6px;top:1448px;width:16px;height:16px;border-radius:8px;background:#c455e8"></div><div class="t" style="left:2567.0px;top:1440px;font-size:22.6px;line-height:30px;letter-spacing:1.02px;color:#5d6066;transform:scaleX(1.13);transform-origin:0 50%">proxy_user_3</div>
<div class="t" style="left:704.0px;top:1489px;font-size:23px;line-height:30px;letter-spacing:2.0px;transform:scaleX(1.12);transform-origin:0 50%;color:#4b4f58">80</div>
<div class="t" style="left:704px;top:1601px;font-size:23px;line-height:30px;letter-spacing:2.0px;transform:scaleX(1.12);transform-origin:0 50%;color:#4b4f58">60</div>
<div class="t" style="left:705.0px;top:1713px;font-size:23px;line-height:30px;letter-spacing:2.0px;transform:scaleX(1.12);transform-origin:0 50%;color:#4b4f58">40</div>
<svg style="left:0;top:1480px" width="2880" height="320" viewBox="0 1480 2880 320">
<defs>
<linearGradient id="gb" gradientUnits="userSpaceOnUse" x1="0" y1="1540" x2="0" y2="1860"><stop offset="0" stop-color="#2a74cc" stop-opacity=".24"/><stop offset="1" stop-color="#2a74cc" stop-opacity=".08"/></linearGradient>
<linearGradient id="gp" gradientUnits="userSpaceOnUse" x1="0" y1="1740" x2="0" y2="1900"><stop offset="0" stop-color="#7a63e8" stop-opacity=".34"/><stop offset="1" stop-color="#7a63e8" stop-opacity=".1"/></linearGradient>
</defs>
<g stroke="#e4e6e9" stroke-width="2"><path d="M752 1499.500H2736M752 1615.500H2736M752 1733H2736"/></g>
<path d="M752.3 1564.7L764.6 1589.7L776.9 1598.1L789.2 1584.1L801.5 1555.1L813.8 1547.7L826.1 1565.1L838.4 1602.8L850.7 1646.2L863.0 1634.1L875.3 1668.4L887.7 1703.3L900.0 1643.0L912.3 1585.8L924.6 1601.7L936.9 1620.8L949.2 1616.5L961.5 1609.1L973.8 1627.1L986.1 1671.6L998.4 1669.0L1010.7 1662.0L1023.0 1695.9L1035.3 1640.9L1047.6 1617.2L1059.9 1629.2L1072.2 1679.4L1084.5 1666.3L1096.8 1647.2L1109.1 1621.4L1121.4 1609.8L1133.8 1647.2L1146.1 1600.7L1158.4 1604.9L1170.7 1635.6L1183.0 1624.6L1195.3 1624.6L1207.6 1637.7L1219.9 1608.5L1232.2 1616.5L1244.5 1654.6L1256.8 1674.8L1269.1 1649.3L1281.4 1624.6L1293.7 1672.6L1306.0 1694.2L1318.3 1692.7L1330.6 1629.7L1342.9 1649.3L1355.2 1658.9L1367.5 1722.4L1379.9 1759.8L1392.2 1652.9L1404.5 1632.4L1416.8 1677.9L1429.1 1645.1L1441.4 1672.2L1453.7 1687.5L1466.0 1701.8L1478.3 1697.4L1490.6 1627.8L1502.9 1651.9L1515.2 1644.1L1527.5 1641.3L1539.8 1654.6L1552.1 1621.4L1564.4 1632.4L1576.7 1640.5L1589.0 1633.0L1601.3 1649.3L1613.7 1643.0L1626.0 1635.2L1638.3 1636.0L1650.6 1640.0L1662.9 1628.0L1675.2 1650.0L1687.5 1622.0L1699.8 1645.0L1712.1 1660.0L1724.4 1638.0L1736.7 1625.0L1749.0 1655.0L1761.3 1670.0L1773.6 1640.0L1785.9 1662.0L1798.2 1690.0L1810.5 1655.0L1822.8 1675.0L1835.1 1700.0L1847.4 1660.0L1859.8 1640.0L1872.1 1685.0L1884.4 1715.0L1896.7 1690.0L1909.0 1650.0L1921.3 1680.0L1933.6 1720.0L1945.9 1700.0L1958.2 1690.0L1970.5 1712.0L1982.8 1695.0L1995.1 1702.0L2007.4 1772.1L2019.7 1755.2L2032.0 1639.8L2044.3 1693.8L2056.6 1654.6L2068.9 1677.9L2081.2 1651.9L2093.5 1668.4L2105.8 1705.4L2118.2 1716.5L2130.5 1715.6L2142.8 1713.9L2155.1 1693.8L2167.4 1728.1L2179.7 1681.1L2192.0 1721.7L2204.3 1688.5L2216.6 1669.0L2228.9 1764.7L2241.2 1795.4L2253.5 1802.8L2265.8 1774.2L2278.1 1746.7L2290.4 1713.9L2302.7 1745.7L2315.0 1737.2L2327.3 1748.8L2339.6 1726.2L2351.9 1742.5L2364.3 1692.7L2376.6 1682.2L2388.9 1736.1L2401.2 1794.4L2413.5 1713.9L2425.8 1737.2L2438.1 1713.9L2450.4 1687.5L2462.7 1769.6L2475.0 1751.0L2487.3 1719.2L2499.6 1767.9L2511.9 1773.6L2524.2 1785.9L2536.5 1794.8L2548.8 1718.8L2561.1 1727.7L2573.4 1789.1L2585.7 1739.9L2598.1 1727.2L2610.4 1766.8L2622.7 1781.2L2635.0 1708.6L2647.3 1736.6L2659.6 1743.1L2671.9 1728.1L2684.2 1733.4L2696.5 1769.0L2708.8 1765.8L2721.1 1731.9L2733.4 1734.0L2733.4 1810L752.3 1810Z" fill="url(#gb)"/>
<g stroke="rgba(120,130,150,.16)" stroke-width="2"><path d="M752 1615.500H2736M752 1733H2736"/></g>
<path d="M752.3 1747.8L764.3 1762.6L776.4 1768.3L789.1 1759.8L795.5 1803.9L826.8 1803.9L838.0 1772.1L850.1 1797.5L862.8 1791.2L869.6 1803.9L877.2 1803.9L886.1 1761.1L899.8 1796.9L912.1 1761.1L924.2 1770.4L936.9 1782.7L948.5 1780.2L961.2 1775.7L973.9 1786.9L981.3 1803.9L1031.1 1803.9L1035.7 1795.8L1038.9 1803.9L1096.7 1803.9L1109.4 1751.4L1121.7 1776.4L1134.8 1803.9L1152.4 1803.9L1159.1 1773.2L1171.2 1792.2L1183.5 1799.6L1195.1 1799.6L1207.8 1794.4L1220.1 1775.3L1232.2 1779.5L1245.0 1756.2L1257.5 1752.4L1269.7 1752.0L1282.0 1782.7L1290.9 1803.9L1393.6 1803.9L1405.2 1790.1L1417.5 1755.8L1430.0 1797.5L1432.3 1803.9L1486.3 1803.9L1491.6 1787.6L1504.1 1800.7L1516.4 1796.9L1528.4 1795.4L1532.9 1803.9L1652.9 1803.9L1663.5 1790.8L1674.1 1803.9L1681.5 1803.9L1688.9 1797.5L1696.3 1803.9L1757.8 1803.9L1773.7 1780.6L1786.8 1759.8L1799.1 1783.8L1812.9 1803.9L1940.0 1803.9L1948.5 1780.6L1960.1 1761.1L1971.8 1761.5L1981.9 1803.9L2006.0 1803.9L2008.8 1797.5L2021.1 1788.0L2033.1 1795.4L2045.8 1749.9L2058.5 1803.9L2116.1 1803.9L2119.9 1795.4L2144.3 1793.9L2149.1 1803.9L2736 1810L752 1810Z" fill="url(#gp)"/>
<path d="M752.3 1564.7L764.6 1589.7L776.9 1598.1L789.2 1584.1L801.5 1555.1L813.8 1547.7L826.1 1565.1L838.4 1602.8L850.7 1646.2L863.0 1634.1L875.3 1668.4L887.7 1703.3L900.0 1643.0L912.3 1585.8L924.6 1601.7L936.9 1620.8L949.2 1616.5L961.5 1609.1L973.8 1627.1L986.1 1671.6L998.4 1669.0L1010.7 1662.0L1023.0 1695.9L1035.3 1640.9L1047.6 1617.2L1059.9 1629.2L1072.2 1679.4L1084.5 1666.3L1096.8 1647.2L1109.1 1621.4L1121.4 1609.8L1133.8 1647.2L1146.1 1600.7L1158.4 1604.9L1170.7 1635.6L1183.0 1624.6L1195.3 1624.6L1207.6 1637.7L1219.9 1608.5L1232.2 1616.5L1244.5 1654.6L1256.8 1674.8L1269.1 1649.3L1281.4 1624.6L1293.7 1672.6L1306.0 1694.2L1318.3 1692.7L1330.6 1629.7L1342.9 1649.3L1355.2 1658.9L1367.5 1722.4L1379.9 1759.8L1392.2 1652.9L1404.5 1632.4L1416.8 1677.9L1429.1 1645.1L1441.4 1672.2L1453.7 1687.5L1466.0 1701.8L1478.3 1697.4L1490.6 1627.8L1502.9 1651.9L1515.2 1644.1L1527.5 1641.3L1539.8 1654.6L1552.1 1621.4L1564.4 1632.4L1576.7 1640.5L1589.0 1633.0L1601.3 1649.3L1613.7 1643.0L1626.0 1635.2L1638.3 1636.0L1650.6 1640.0L1662.9 1628.0L1675.2 1650.0L1687.5 1622.0L1699.8 1645.0L1712.1 1660.0L1724.4 1638.0L1736.7 1625.0L1749.0 1655.0L1761.3 1670.0L1773.6 1640.0L1785.9 1662.0L1798.2 1690.0L1810.5 1655.0L1822.8 1675.0L1835.1 1700.0L1847.4 1660.0L1859.8 1640.0L1872.1 1685.0L1884.4 1715.0L1896.7 1690.0L1909.0 1650.0L1921.3 1680.0L1933.6 1720.0L1945.9 1700.0L1958.2 1690.0L1970.5 1712.0L1982.8 1695.0L1995.1 1702.0L2007.4 1772.1L2019.7 1755.2L2032.0 1639.8L2044.3 1693.8L2056.6 1654.6L2068.9 1677.9L2081.2 1651.9L2093.5 1668.4L2105.8 1705.4L2118.2 1716.5L2130.5 1715.6L2142.8 1713.9L2155.1 1693.8L2167.4 1728.1L2179.7 1681.1L2192.0 1721.7L2204.3 1688.5L2216.6 1669.0L2228.9 1764.7L2241.2 1795.4L2253.5 1802.8L2265.8 1774.2L2278.1 1746.7L2290.4 1713.9L2302.7 1745.7L2315.0 1737.2L2327.3 1748.8L2339.6 1726.2L2351.9 1742.5L2364.3 1692.7L2376.6 1682.2L2388.9 1736.1L2401.2 1794.4L2413.5 1713.9L2425.8 1737.2L2438.1 1713.9L2450.4 1687.5L2462.7 1769.6L2475.0 1751.0L2487.3 1719.2L2499.6 1767.9L2511.9 1773.6L2524.2 1785.9L2536.5 1794.8L2548.8 1718.8L2561.1 1727.7L2573.4 1789.1L2585.7 1739.9L2598.1 1727.2L2610.4 1766.8L2622.7 1781.2L2635.0 1708.6L2647.3 1736.6L2659.6 1743.1L2671.9 1728.1L2684.2 1733.4L2696.5 1769.0L2708.8 1765.8L2721.1 1731.9L2733.4 1734.0" fill="none" stroke="#1f6bc1" stroke-width="4" stroke-linejoin="round" stroke-linecap="round"/>
<path d="M752.3 1747.8L764.3 1762.6L776.4 1768.3L789.1 1759.8L795.5 1803.9L826.8 1803.9L838.0 1772.1L850.1 1797.5L862.8 1791.2L869.6 1803.9L877.2 1803.9L886.1 1761.1L899.8 1796.9L912.1 1761.1L924.2 1770.4L936.9 1782.7L948.5 1780.2L961.2 1775.7L973.9 1786.9L981.3 1803.9L1031.1 1803.9L1035.7 1795.8L1038.9 1803.9L1096.7 1803.9L1109.4 1751.4L1121.7 1776.4L1134.8 1803.9L1152.4 1803.9L1159.1 1773.2L1171.2 1792.2L1183.5 1799.6L1195.1 1799.6L1207.8 1794.4L1220.1 1775.3L1232.2 1779.5L1245.0 1756.2L1257.5 1752.4L1269.7 1752.0L1282.0 1782.7L1290.9 1803.9L1393.6 1803.9L1405.2 1790.1L1417.5 1755.8L1430.0 1797.5L1432.3 1803.9L1486.3 1803.9L1491.6 1787.6L1504.1 1800.7L1516.4 1796.9L1528.4 1795.4L1532.9 1803.9L1652.9 1803.9L1663.5 1790.8L1674.1 1803.9L1681.5 1803.9L1688.9 1797.5L1696.3 1803.9L1757.8 1803.9L1773.7 1780.6L1786.8 1759.8L1799.1 1783.8L1812.9 1803.9L1940.0 1803.9L1948.5 1780.6L1960.1 1761.1L1971.8 1761.5L1981.9 1803.9L2006.0 1803.9L2008.8 1797.5L2021.1 1788.0L2033.1 1795.4L2045.8 1749.9L2058.5 1803.9L2116.1 1803.9L2119.9 1795.4L2144.3 1793.9L2149.1 1803.9" fill="none" stroke="#7b68e6" stroke-width="4" stroke-linejoin="round"/>
<path d="M2571.2 1803.9L2575.8 1792.4L2580.5 1803.9Z" fill="#c455e8" fill-opacity=".4" stroke="#c455e8" stroke-width="4" stroke-linejoin="round"/>
<path d="M1600 1499V1800" stroke="#aeb4bd" stroke-opacity=".7" stroke-width="3.800" stroke-dasharray="18 12.9" stroke-dashoffset="7.600" fill="none"/>
</svg>
<div class="abs" style="left:1636px;top:1538px;width:397px;height:204px;border-radius:8px;background:#fff;box-shadow:0 6px 20px rgba(16,24,40,.13),0 0 3px rgba(16,24,40,.10);overflow:hidden"><div class="abs" style="left:0;top:0;width:397px;height:61px;background:#f4f6f7;border-bottom:2px solid #e8eaed"></div></div>
<div class="t" style="left:1650.0px;top:1553px;font-size:22.6px;line-height:30px;letter-spacing:0.69px;color:#16181d;-webkit-text-stroke:.35px #16181d;transform:scaleX(1.1);transform-origin:0 50%">Oct 20, 2023</div>
<div class="t" style="left:1818.2px;top:1553px;width:200px;text-align:right;font-size:22.6px;line-height:30px;letter-spacing:0.59px;color:#16181d;-webkit-text-stroke:.35px #16181d;transform:scaleX(1.03);transform-origin:100% 50%">2.84 GB</div>
<div class="abs" style="left:1650px;top:1624.0px;width:16px;height:16px;border-radius:8px;background:#1f6fd0"></div><div class="t" style="left:1682.1px;top:1616.5px;font-size:22.6px;line-height:30px;letter-spacing:0.63px;color:#5d6066;transform:scaleX(1.13);transform-origin:0 50%">proxy_user_1</div><div class="t" style="left:1817.8px;top:1616.5px;width:200px;text-align:right;font-size:22.6px;line-height:30px;letter-spacing:0.38px;color:#5d6066;transform:scaleX(1.03);transform-origin:100% 50%">0.2 GB</div>
<div class="abs" style="left:1650px;top:1664.2px;width:16px;height:16px;border-radius:8px;background:#7a63e8"></div><div class="t" style="left:1682.1px;top:1656.7px;font-size:22.6px;line-height:30px;letter-spacing:0.93px;color:#5d6066;transform:scaleX(1.13);transform-origin:0 50%">proxy_user_2</div><div class="t" style="left:1818.3px;top:1656.7px;width:200px;text-align:right;font-size:22.6px;line-height:30px;letter-spacing:0.75px;color:#5d6066;transform:scaleX(1.03);transform-origin:100% 50%">2.54 GB</div>
<div class="abs" style="left:1650px;top:1704.4px;width:16px;height:16px;border-radius:8px;background:#c455e8"></div><div class="t" style="left:1682.1px;top:1696.9px;font-size:22.6px;line-height:30px;letter-spacing:0.93px;color:#5d6066;transform:scaleX(1.13);transform-origin:0 50%">proxy_user_3</div><div class="t" style="left:1817.1px;top:1696.9px;width:200px;text-align:right;font-size:22.6px;line-height:30px;letter-spacing:-0.46px;color:#5d6066;transform:scaleX(1.03);transform-origin:100% 50%">0.1 GB</div>
<div class="abs" style="left:2736px;top:1656px;width:96px;height:96px;border-radius:48px;background:#0a9a69"></div>
<svg style="left:2736px;top:1656px" width="96" height="96" viewBox="0 0 96 96"><path d="M32 24H65Q69.500 24 69.500 28.500V71.500L56 67H32Q27.500 67 27.500 62.500V28.500Q27.500 24 32 24Z" fill="#fff"/><path d="M34.500 55.500Q48.500 63.500 62.500 55.500" fill="none" stroke="#0a9a69" stroke-width="2.600" stroke-linecap="round"/></svg>
<svg style="left:400px;top:1540px" width="90" height="80" viewBox="0 0 1701 1512"><g fill="#fff" stroke="#000" stroke-width="50" stroke-linejoin="round" stroke-linecap="round"><path d="M545 322C605 322 640 360 655 430L705 600C740 570 830 560 890 640C940 570 1060 570 1100 670C1150 640 1250 650 1255 730C1262 860 1250 960 1190 1080C1150 1150 1105 1190 1105 1260L1105 1340L1010 1335C970 1320 950 1280 935 1245C920 1280 890 1320 850 1335L640 1340L640 1275C610 1220 540 1160 470 1110C420 1040 360 940 295 865C270 820 290 760 340 735C400 705 470 760 550 870L500 600C480 500 470 440 470 400C470 350 500 322 545 322Z"/><path d="M705 600L715 740M890 640L895 740M1100 670L1105 740M765 910V1150M895 910L900 1150M1030 910V1150" fill="none"/></g></svg>



</body>
</html>
